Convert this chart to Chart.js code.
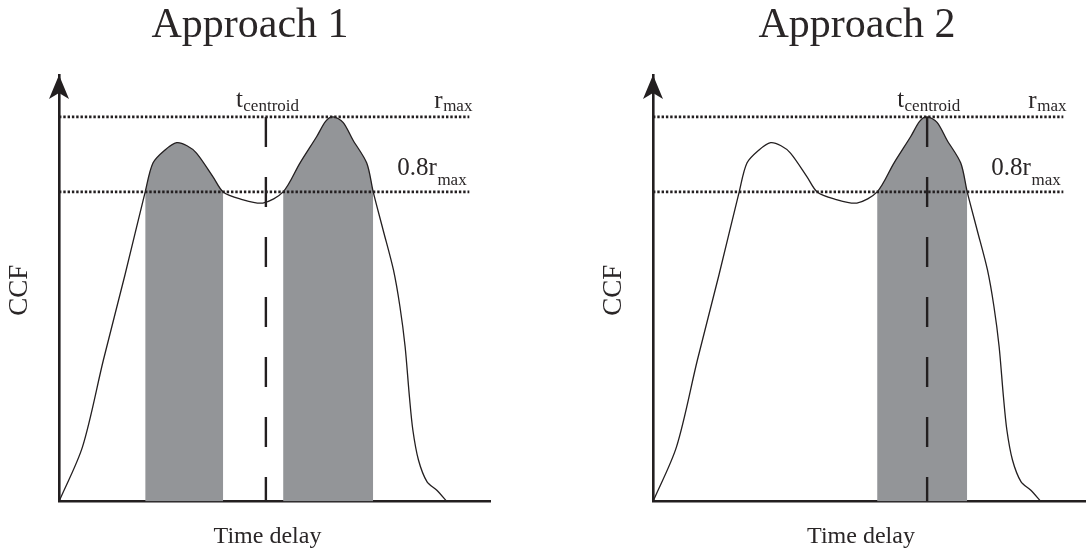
<!DOCTYPE html>
<html><head><meta charset="utf-8">
<script src="https://cdn.jsdelivr.net/npm/chart.js@4.4.1/dist/chart.umd.min.js"></script>
<style>
html,body{margin:0;padding:0;background:#fff;}
#wrap{position:relative;width:1086px;height:551px;overflow:hidden;}
.panel{position:absolute;top:0;width:543px;height:551px;}
</style></head><body>
<div id="wrap">
<div class="panel" style="left:0"><canvas id="c1" width="543" height="551"></canvas></div>
<div class="panel" style="left:543px"><canvas id="c2" width="543" height="551"></canvas></div>
</div>
<script>
// ---- data (time delay in arbitrary units, CCF normalised to r_max = 1) ----
const delay = [0, 5.45, 10.3, 15.3, 20.0, 21.8, 24.6, 27.3, 29.7, 31.9, 35.7, 38.1, 42.0, 47.3, 52.0, 55.9, 59.8, 61.9, 63.6, 65.9, 68.2, 71.4, 72.9, 75.2, 77.6, 79.1, 80.3, 81.3, 82.1, 83.4, 85.4, 87.6, 90.0];
const ccf   = [0, 0.142, 0.368, 0.589, 0.805, 0.880, 0.914, 0.933, 0.925, 0.906, 0.845, 0.805, 0.787, 0.776, 0.805, 0.880, 0.949, 0.989, 1.0, 0.986, 0.940, 0.880, 0.805, 0.706, 0.602, 0.507, 0.403, 0.273, 0.186, 0.108, 0.051, 0.030, 0];
const rMax = 1.0;
const threshold = 0.805;       // 0.8 r_max
const bands1 = [[20.0, 38.1], [52.0, 72.9]];
const bands2 = [[52.0, 72.9]];
const centroid1 = 48.0;
const centroid2 = 63.6;
const refLineEnd = 95.2;
const titles = ['Approach 1', 'Approach 2'];
const xLabel = 'Time delay';
const yLabel = 'CCF';

const INK = '#231f20';
const GREY = '#939598';
const FONT = '"Liberation Serif", "Times New Roman", serif';

const curvePts = delay.map((d, i) => ({x: d, y: ccf[i]}));

const decor = {
  id: 'decor',
  afterDraw(chart, args, o) {
    const {ctx, chartArea: a, scales: {x, y}} = chart;
    ctx.save();
    ctx.fillStyle = INK;
    // arrow head on the CCF axis
    const ax = a.left, at = a.top;
    ctx.beginPath();
    ctx.moveTo(ax, at);
    ctx.lineTo(ax + 10, at + 24);
    ctx.lineTo(ax, at + 18);
    ctx.lineTo(ax - 10, at + 24);
    ctx.closePath();
    ctx.fill();

    ctx.fillStyle = '#2a2627';
    ctx.textBaseline = 'alphabetic';
    ctx.textAlign = 'center';
    ctx.font = '42px ' + FONT;
    ctx.fillText(o.title, o.titleX, 37);
    ctx.font = '24px ' + FONT;
    ctx.fillText(xLabel, o.xLabelX, 543);
    ctx.save();
    ctx.translate(o.yLabelX, (a.top + a.bottom) / 2 + 2);
    ctx.rotate(-Math.PI / 2);
    ctx.font = '27px ' + FONT;
    ctx.fillText(yLabel, 0, 0);
    ctx.restore();

    ctx.textAlign = 'left';
    const sub = (main, s, x0, bMain, bSub) => {
      ctx.font = '25px ' + FONT;
      ctx.fillText(main, x0, bMain);
      const w = ctx.measureText(main).width;
      ctx.font = '17px ' + FONT;
      ctx.fillText(s, x0 + w + 0.5, bSub);
    };
    const yTop = y.getPixelForValue(rMax);
    const yThr = y.getPixelForValue(threshold);
    const xc = x.getPixelForValue(o.centroid);
    const xe = x.getPixelForValue(refLineEnd);
    sub('t', 'centroid', xc - 30, yTop - 10, yTop - 6);
    sub('r', 'max', xe - 35, yTop - 9, yTop - 6);
    sub('0.8r', 'max', xe - 72, yThr - 17, yThr - 7);
    ctx.restore();
  }
};

function makeChart(id, bands, centroid, opts) {
  const inBand = (a, b) => bands.some(([lo, hi]) => a >= lo - 1e-9 && b <= hi + 1e-9);
  return new Chart(document.getElementById(id), {
    type: 'line',
    data: {
      datasets: [
        {
          data: curvePts,
          borderColor: INK,
          borderWidth: 1.3,
          pointRadius: 0,
          tension: 0.3,
          fill: 'origin',
          backgroundColor: 'rgba(0,0,0,0)',
          segment: {
            backgroundColor: c => inBand(c.p0.parsed.x, c.p1.parsed.x) ? GREY : 'rgba(0,0,0,0)'
          },
          order: 3,
          clip: false
        },
        {
          data: [{x: 0, y: rMax}, {x: refLineEnd, y: rMax}],
          borderColor: INK, borderWidth: 2.6, borderDash: [2.4, 1.9],
          pointRadius: 0, fill: false, order: 2
        },
        {
          data: [{x: 0, y: threshold}, {x: refLineEnd, y: threshold}],
          borderColor: INK, borderWidth: 2.6, borderDash: [2.4, 1.9],
          pointRadius: 0, fill: false, order: 2
        },
        {
          data: [{x: centroid, y: rMax}, {x: centroid, y: 0}],
          borderColor: INK, borderWidth: 2.4, borderDash: [30, 30],
          pointRadius: 0, fill: false, order: 1
        }
      ]
    },
    options: {
      responsive: false,
      animation: false,
      devicePixelRatio: 1,
      layout: {padding: opts.padding},
      plugins: {
        legend: {display: false},
        tooltip: {enabled: false},
        decor: Object.assign({centroid}, opts.labels)
      },
      scales: {
        x: {
          type: 'linear', min: 0, max: opts.xMax,
          grid: {display: false, drawTicks: false},
          ticks: {display: false},
          border: {display: true, color: INK, width: 2.6}
        },
        y: {
          type: 'linear', min: 0, max: 1.109,
          grid: {display: false, drawTicks: false},
          ticks: {display: false},
          border: {display: true, color: INK, width: 2.6}
        }
      }
    },
    plugins: [decor]
  });
}

makeChart('c1', bands1, centroid1, {
  padding: {left: 59, top: 75, right: 53, bottom: 49.5},
  xMax: 100,
  labels: {title: titles[0], titleX: 250, xLabelX: 267.5, yLabelX: 27}
});
makeChart('c2', bands2, centroid2, {
  padding: {left: 110, top: 75, right: 0, bottom: 49.5},
  xMax: 100.46,
  labels: {title: titles[1], titleX: 314, xLabelX: 318, yLabelX: 78}
});
</script>
</body></html>
